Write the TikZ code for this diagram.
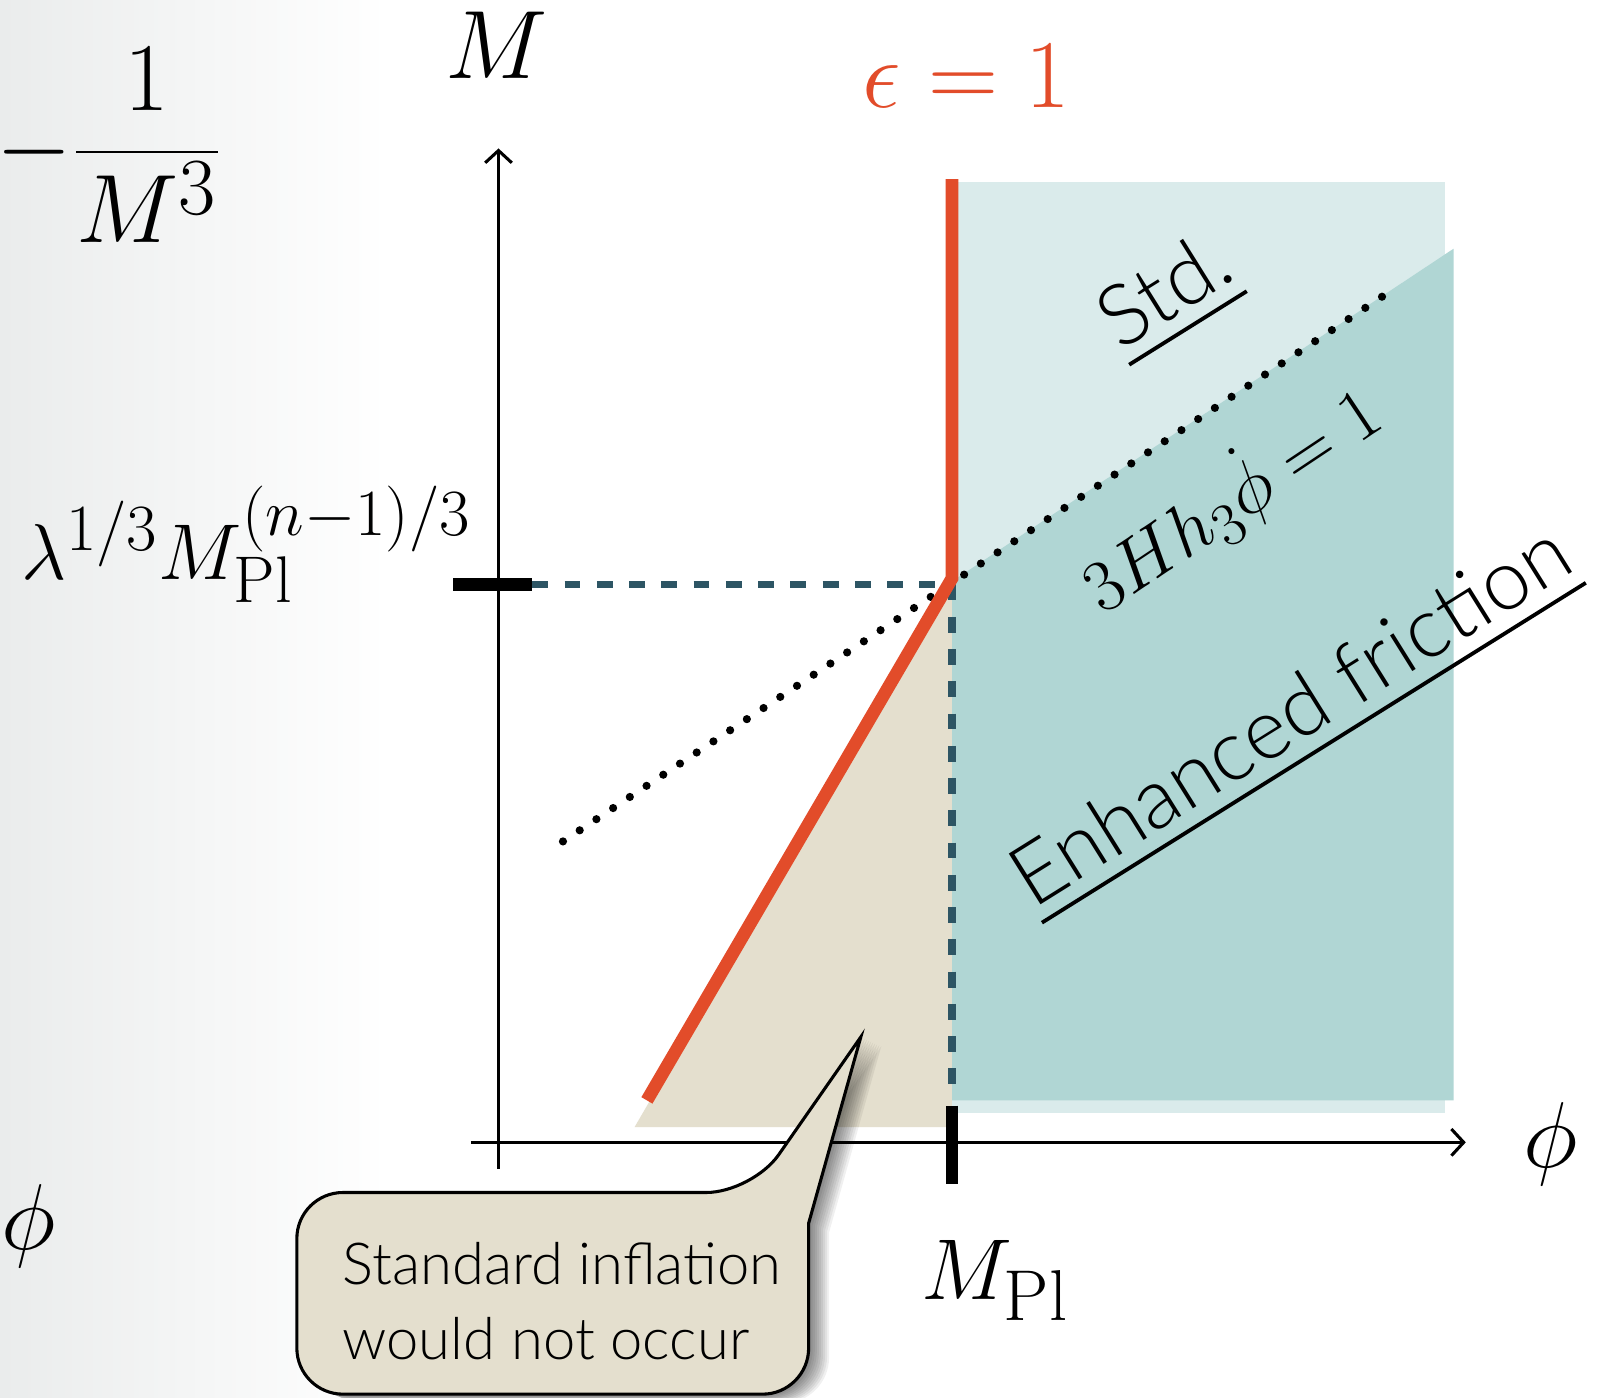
\documentclass[tikz,border=0pt]{standalone}
\usepackage{fontspec}
\IfFontExistsTF{Lato Light}{\newfontfamily\gill{Lato Light}}{\newfontfamily\gill{Lato}}
\usetikzlibrary{arrows.meta}
\newcommand\myul[1]{\vtop{\hbox{#1}\kern 0.16em\hrule height 0.045em}}
\definecolor{redl}{RGB}{226,76,42}
\definecolor{dashc}{RGB}{45,85,100}
\definecolor{tealL}{RGB}{218,235,235}
\definecolor{tealD}{RGB}{176,214,212}
\definecolor{beige}{RGB}{228,223,206}
\definecolor{bgg}{RGB}{234,236,236}
\tikzset{
  axisln/.style={line width=0.03cm, -{Straight Barb[length=0.12cm,width=0.26cm]}},
  tickln/.style={line width=0.12cm},
  dashln/.style={dashc, line width=0.07cm, dash pattern=on 0.155cm off 0.16cm},
  dotln/.style={line width=0.08cm, dash pattern=on 0pt off 0.196cm, line cap=round},
  redln/.style={redl, line width=0.125cm},
  mlbl/.style={inner sep=0pt, font=\Huge},
  tlbl/.style={inner sep=0pt},
  callout shape/.style={insert path={(841,1013) -- (790,1195) [rounded corners=0.45cm] -- (790,1362) -- (290,1362) -- (290,1165) -- (735,1165) [sharp corners] -- cycle}},
}
\begin{document}
\begin{tikzpicture}[x=0.01cm,y=-0.01cm]
\useasboundingbox (0,0) rectangle (1568,1365);
\fill[white] (0,0) rectangle (1568,1365);
\shade[left color=bgg, right color=white] (0,0) rectangle (380,1365);
% key points
\coordinate (top) at (930,175);
\coordinate (kink) at (930,565);
\coordinate (low) at (632,1075);
\coordinate (hk) at (930,571);
\coordinate (hs) at (520,571);
\coordinate (vb) at (930,1075);
\coordinate (dA) at (550,822);
\coordinate (dB) at (1362,282);
\coordinate (yb) at (487,1142);
\coordinate (yt) at (487,145);
\coordinate (xl) at (460,1116);
\coordinate (xr) at (1432,1116);
% regions
\fill[tealL] (930,178) rectangle (1412,1087);
\fill[tealD] (930,568) -- (1420,243) -- (1420,1075) -- (930,1075) -- cycle;
\fill[beige] (930,568) -- (620,1101) -- (930,1101) -- cycle;
% guides
\draw[dashln] (hs) -- (hk);
\draw[dashln] (hk) -- (vb);
\draw[dotln] (dA) -- (dB);
% axes
\draw[axisln] (yb) -- (yt);
\draw[axisln] (xl) -- (xr);
\draw[tickln] (443,571) -- (hs);
\draw[tickln] (930,1080) -- (930,1157);
% epsilon = 1 curve
\draw[redln] (top) -- (kink) -- (low);
% labels
\node[mlbl, anchor=base, scale=1.085] (Mlab) at (485,77) {$M$};
\node[mlbl, anchor=base, scale=1.085, text=redl] (eps) at (944,105) {$\epsilon = 1$};
\node[mlbl, anchor=base east, scale=1.085] (frac) at (218,172) {$\displaystyle -\frac{1}{M^3}$};
\node[mlbl, anchor=base east, scale=0.884] (lam) at (461,566) {$\lambda^{1/3}M_{\mathrm{Pl}}^{(n-1)/3}$};
\node[mlbl, anchor=base west, scale=0.965] (mpl) at (900,1270) {$M_{\mathrm{Pl}}$};
\node[mlbl, anchor=base, scale=1.045] (phiR) at (1515,1141) {$\phi$};
\node[mlbl, anchor=base, scale=1.045] (phiL) at (28,1221) {$\phi$};
\node[mlbl, rotate=33.7, scale=0.824] (cond) at (1202,487) {$3Hh_3\dot\phi = 1$};
\node[tlbl, rotate=32, font=\gill\fontsize{23.5}{28}\selectfont] (std) at (1141,289) {\myul{Std.}};
\node[tlbl, rotate=32, font=\gill\fontsize{23.5}{28}\selectfont] (enh) at (1264,704) {\myul{Enhanced friction}};
% callout
\foreach \k in {1,...,10}{
  \fill[black, opacity=0.06, shift={(\k*2.0,\k*0.9)}, callout shape];
}
\path[fill=beige, draw=black, line width=0.03cm, line join=miter, callout shape];
\node[tlbl, anchor=base west, font=\gill\fontsize{16.1}{20}\selectfont] (c1) at (334,1255) {Standard inflation};
\node[tlbl, anchor=base west, font=\gill\fontsize{16.1}{20}\selectfont] (c2) at (334,1328) {would not occur};
\end{tikzpicture}
\end{document}
